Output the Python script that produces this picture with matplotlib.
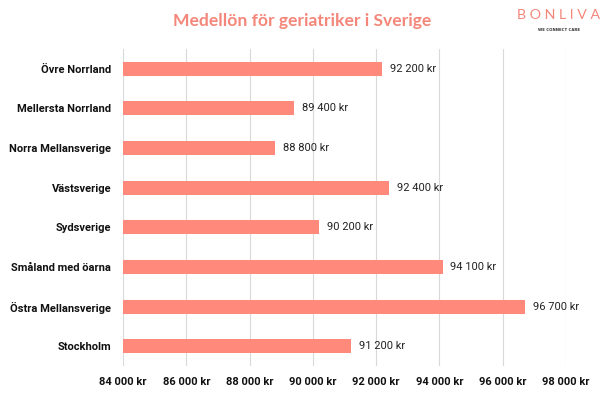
import matplotlib
matplotlib.use("Agg")
import matplotlib.pyplot as plt
from matplotlib.ticker import FuncFormatter

# --- Data (top to bottom as shown) ---
regions = ["Övre Norrland", "Mellersta Norrland", "Norra Mellansverige",
           "Västsverige", "Sydsverige", "Småland med öarna",
           "Östra Mellansverige", "Stockholm"]
salaries = [92200, 89400, 88800, 92400, 90200, 94100, 96700, 91200]
x_ticks = [84000, 86000, 88000, 90000, 92000, 94000, 96000, 98000]

BAR = "#FF8A7C"
ACCENT = "#F4877A"

plt.rcParams['font.family'] = ['Roboto', 'DejaVu Sans']


def kr(v, pos=None):
    return f"{int(v):,} kr".replace(",", " ")


fig = plt.figure(figsize=(6.04, 3.94), dpi=100)
ax = fig.add_axes([0.2036, 0.0711, 0.7334, 0.8046])

ypos = list(range(len(regions)))[::-1]
ax.barh(ypos, [s - x_ticks[0] for s in salaries], left=x_ticks[0],
        height=0.355, color=BAR, zorder=3)

for y, s in zip(ypos, salaries):
    ax.text(s + 250, y, kr(s), va="center", ha="left", fontsize=8,
            color="#222222")

ax.set_xlim(x_ticks[0], x_ticks[-1])
ax.set_ylim(-0.5, len(regions) - 0.5)
ax.set_xticks(x_ticks)
ax.xaxis.set_major_formatter(FuncFormatter(kr))
ax.set_yticks(ypos)
ax.set_yticklabels(regions)
for lbl in ax.get_xticklabels() + ax.get_yticklabels():
    lbl.set_fontweight("bold")
    lbl.set_fontsize(8)
    lbl.set_color("#111111")
ax.tick_params(length=0, pad=8.5)
ax.tick_params(axis="x", pad=8)

ax.grid(axis="x", color="#D9D9D9", linewidth=0.8, zorder=0)
for sp in ax.spines.values():
    sp.set_visible(False)

fig.text(0.5, 0.947, "Medellön för geriatriker i Sverige", ha="center",
         va="center", fontsize=12.6, fontweight="bold", color=ACCENT,
         family=['Lato', 'DejaVu Sans'])

# logo
fig.text(0.925, 0.961, "B O N L I V A", ha="center", va="center", fontsize=10.2,
         color=ACCENT, family=['Lato', 'DejaVu Sans'])
fig.text(0.925, 0.924, "WE CONNECT CARE", ha="center", va="center",
         fontsize=2.8, fontweight="bold", color="#333333",
         family=['DejaVu Sans'])

fig.savefig("out.png", dpi=100)
